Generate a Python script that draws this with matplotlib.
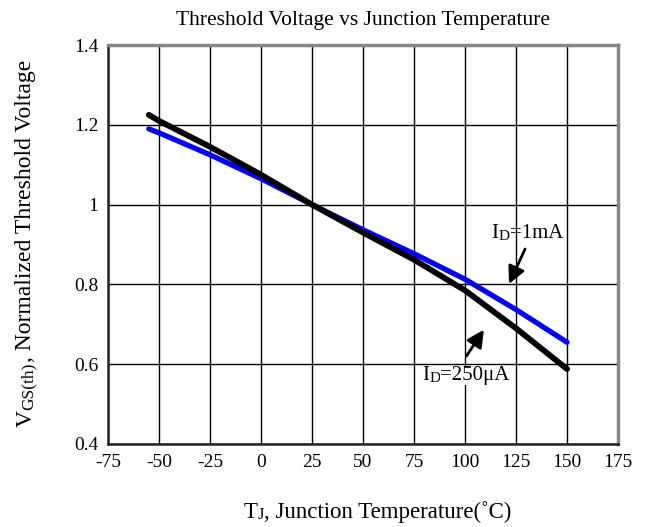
import matplotlib
matplotlib.use("Agg")
import matplotlib.pyplot as plt
from matplotlib.ticker import FuncFormatter

plt.rcParams["font.family"] = ["Liberation Serif", "DejaVu Serif"]
plt.rcParams["axes.unicode_minus"] = False

# data
temp_c = [-55, -50, -25, 0, 25, 50, 75, 100, 125, 150]
vth_250ua = [1.225, 1.21, 1.145, 1.075, 1.0, 0.93, 0.862, 0.785, 0.69, 0.588]
vth_1ma = [1.19, 1.18, 1.125, 1.065, 1.0, 0.937, 0.877, 0.813, 0.737, 0.655]
x_ticks = [-75, -50, -25, 0, 25, 50, 75, 100, 125, 150, 175]
y_ticks = [0.4, 0.6, 0.8, 1.0, 1.2, 1.4]

fig = plt.figure(figsize=(6.46, 5.27), dpi=100)
ax = fig.add_axes([0.1672, 0.1575, 0.7895, 0.757])

ax.plot(temp_c, vth_1ma, color="#0000ff", lw=3.8, solid_capstyle="round", zorder=3)
ax.plot(temp_c, vth_250ua, color="black", lw=4.2, solid_capstyle="round", zorder=4)

ax.set_xlim(-75, 175)
ax.set_ylim(0.4, 1.4)
ax.set_xticks(x_ticks)
ax.set_yticks(y_ticks)
ax.yaxis.set_major_formatter(FuncFormatter(lambda v, p: "%g" % v))
ax.tick_params(length=0, labelsize=14, pad=7)
ax.grid(True, color="black", lw=1)

for s in ["left", "bottom"]:
    ax.spines[s].set_color("#222222")
    ax.spines[s].set_linewidth(1.8)
for s in ["top", "right"]:
    ax.spines[s].set_color("#888888")
    ax.spines[s].set_linewidth(2.5)


def chain_text(parts, x, y, rotation=0, **kw):
    # place text pieces of different sizes one after another
    first, size = parts[0]
    if rotation == 0:
        t = fig.text(x, y, first, fontsize=size, ha="left", va="bottom", **kw)
    else:
        t = fig.text(x, y, first, fontsize=size, ha="right", va="bottom",
                     rotation=90, **kw)
    for s, size in parts[1:]:
        if rotation == 0:
            t = ax.annotate(s, xy=(1, 0), xycoords=t, fontsize=size,
                            ha="left", va="bottom", annotation_clip=False, **kw)
        else:
            t = ax.annotate(s, xy=(1, 1), xycoords=t, fontsize=size,
                            ha="right", va="bottom", rotation=90,
                            annotation_clip=False, **kw)
    return t


fig.text(0.5619, 0.962, "Threshold Voltage vs Junction Temperature",
         fontsize=15.5, ha="center", va="center")

chain_text([("T", 16.5), ("J", 12), (", Junction Temperature(\u02daC)", 16.5)],
           0.3777, 0.008)
chain_text([("V", 17), ("GS(th)", 12.5), (", Normalized Threshold Voltage", 17)],
           0.0565, 0.19, rotation=90)

# annotations with arrows
ax.annotate("", xy=(121, 0.795), xytext=(130, 0.895),
            arrowprops=dict(arrowstyle="-|>", color="black", lw=2,
                            mutation_scale=26))
t1 = ax.text(113, 0.905, "I", fontsize=15, ha="left", va="bottom")
t1 = ax.annotate("D", xy=(1, 0), xycoords=t1, fontsize=11, ha="left", va="bottom")
ax.annotate("=1mA", xy=(1, 0), xycoords=t1, fontsize=15, ha="left", va="bottom")

ax.annotate("", xy=(110, 0.6925), xytext=(100, 0.615),
            arrowprops=dict(arrowstyle="-|>", color="black", lw=2,
                            mutation_scale=26))
t2 = ax.text(79, 0.548, "I", fontsize=15, ha="left", va="bottom",
             bbox=dict(facecolor="white", edgecolor="none", pad=0))
t2 = ax.annotate("D", xy=(1, 0), xycoords=t2, fontsize=11, ha="left", va="bottom",
                 bbox=dict(facecolor="white", edgecolor="none", pad=0))
ax.annotate("=250\u03bcA", xy=(1, 0), xycoords=t2, fontsize=15, ha="left",
            va="bottom", bbox=dict(facecolor="white", edgecolor="none", pad=0))

fig.savefig("out.png", dpi=100)
